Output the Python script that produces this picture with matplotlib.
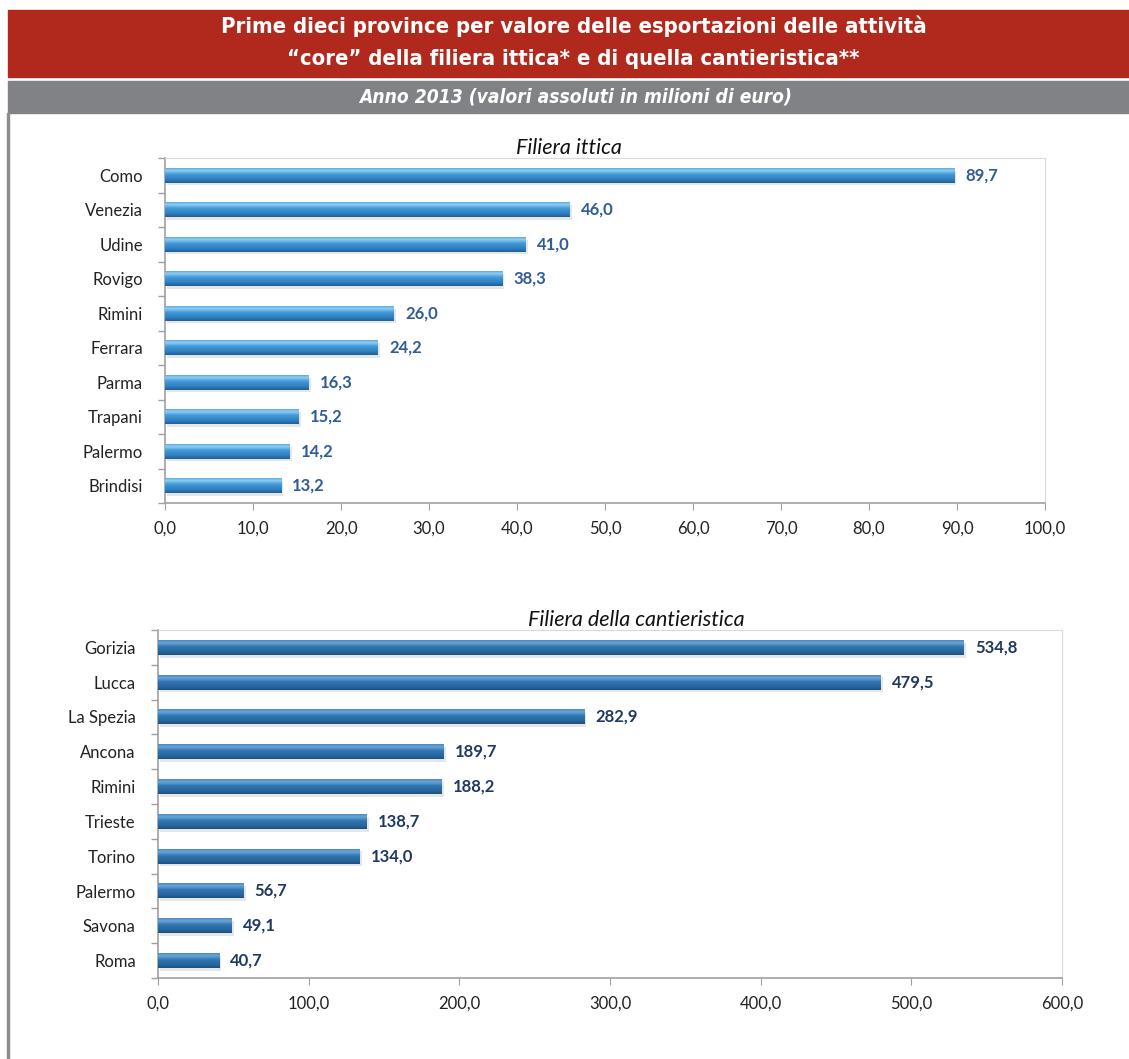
import numpy as np
import matplotlib
matplotlib.use("Agg")
import matplotlib.pyplot as plt
import matplotlib.patheffects as pe
from matplotlib.colors import LinearSegmentedColormap
from matplotlib.ticker import FuncFormatter, FixedLocator

# data
titolo_1 = "Prime dieci province per valore delle esportazioni delle attività"
titolo_2 = "\u201ccore\u201d della filiera ittica* e di quella cantieristica**"
sottotitolo = "Anno 2013 (valori assoluti in milioni di euro)"

ittica_prov = ["Como", "Venezia", "Udine", "Rovigo", "Rimini", "Ferrara",
               "Parma", "Trapani", "Palermo", "Brindisi"]
ittica_val = [89.7, 46.0, 41.0, 38.3, 26.0, 24.2, 16.3, 15.2, 14.2, 13.2]

cant_prov = ["Gorizia", "Lucca", "La Spezia", "Ancona", "Rimini", "Trieste",
             "Torino", "Palermo", "Savona", "Roma"]
cant_val = [534.8, 479.5, 282.9, 189.7, 188.2, 138.7, 134.0, 56.7, 49.1, 40.7]

body_font = ["Lato", "DejaVu Sans"]
head_font = ["DejaVu Sans"]

def virgola(v, pos=None):
    return f"{v:.1f}".replace(".", ",")

cmap_light = LinearSegmentedColormap.from_list(
    "light", [(0, "#5aaae0"), (0.15, "#90cff4"), (0.42, "#4299d8"),
              (0.8, "#2c7cbd"), (1, "#1f5e94")])
cmap_dark = LinearSegmentedColormap.from_list(
    "dark", [(0, "#4a8ac4"), (0.18, "#6aa5d6"), (0.45, "#3076b0"),
             (0.8, "#27659c"), (1, "#1b4f7e")])


def pannello(ax, prov, val, xmax, step, cmap, lab_col, titolo_ax, tx):
    y = np.arange(len(prov))
    bars = ax.barh(y, val, height=0.43, color="#3a8fd0", zorder=2)
    for b in bars:
        b.set_path_effects([pe.SimplePatchShadow(offset=(1.5, -2), alpha=0.13,
                                                 shadow_rgbFace="#444444"),
                            pe.Normal()])
    grad = np.linspace(0, 1, 64).reshape(-1, 1)
    for b in bars:
        x0, y0 = b.get_x(), b.get_y()
        ax.imshow(grad, cmap=cmap, aspect="auto", zorder=3,
                  extent=(x0, x0 + b.get_width(), y0 + b.get_height(), y0),
                  interpolation="bilinear")
    for yi, v in zip(y, val):
        ax.annotate(virgola(v), (v, yi), xytext=(8, 0), textcoords="offset points",
                    va="center", ha="left", fontsize=12, fontweight="bold",
                    color=lab_col, family=body_font)
    ax.set_xlim(0, xmax)
    ax.set_ylim(len(prov) - 0.5, -0.5)
    ax.set_yticks(y)
    ax.set_yticklabels(prov, family=body_font, fontsize=12, color="#222222")
    ax.yaxis.set_minor_locator(FixedLocator(np.arange(-0.5, len(prov), 1)))
    ax.tick_params(axis="y", which="major", length=0, pad=16)
    ax.tick_params(axis="y", which="minor", length=5, color="#a0a0a0", width=1)
    ax.set_xticks(np.arange(0, xmax + step / 2, step))
    ax.xaxis.set_major_formatter(FuncFormatter(virgola))
    ax.tick_params(axis="x", length=5, color="#a0a0a0", labelsize=12, pad=8,
                   labelcolor="#222222")
    for t in ax.get_xticklabels():
        t.set_family(body_font)
    for s in ["top", "right"]:
        ax.spines[s].set_color("#d9d9d9")
    for s in ["left", "bottom"]:
        ax.spines[s].set_color("#a0a0a0")
        ax.spines[s].set_linewidth(1.2)
    ax.set_title(titolo_ax, fontsize=15.5, style="italic", family=body_font,
                 color="#111111", pad=2, x=tx)


fig = plt.figure(figsize=(11.29, 10.59), dpi=100)

# banners
fig.patches.append(plt.Rectangle((0.007, 1 - 77 / 1059), 0.993, 67 / 1059,
                                 transform=fig.transFigure, color="#b1281d"))
fig.patches.append(plt.Rectangle((0.007, 1 - 113 / 1059), 0.993, 32 / 1059,
                                 transform=fig.transFigure, color="#818285"))
fig.patches.append(plt.Rectangle((0.0065, 0), 0.0018, 1 - 113 / 1059,
                                 transform=fig.transFigure, color="#8c8c8c"))
fig.text(0.508, 1 - 26 / 1059, titolo_1, ha="center", va="center", color="white",
         fontsize=15.8, fontweight="bold", family=head_font, stretch="condensed")
fig.text(0.508, 1 - 59 / 1059, titolo_2, ha="center", va="center", color="white",
         fontsize=15.8, fontweight="bold", family=head_font, stretch="condensed")
fig.text(0.51, 1 - 97 / 1059, sottotitolo, ha="center", va="center",
         color="white", fontsize=13.8, fontweight="bold", style="italic",
         family=head_font, stretch="condensed")

ax1 = fig.add_axes([165 / 1129, 1 - 503 / 1059, 880 / 1129, 345 / 1059])
pannello(ax1, ittica_prov, ittica_val, 100, 10, cmap_light, "#2f5b96",
         "Filiera ittica", 0.459)

ax2 = fig.add_axes([158 / 1129, 1 - 978 / 1059, 904 / 1129, 348 / 1059])
pannello(ax2, cant_prov, cant_val, 600, 100, cmap_dark, "#1f3864",
         "Filiera della cantieristica", 0.529)

fig.savefig("out.png", dpi=100)
